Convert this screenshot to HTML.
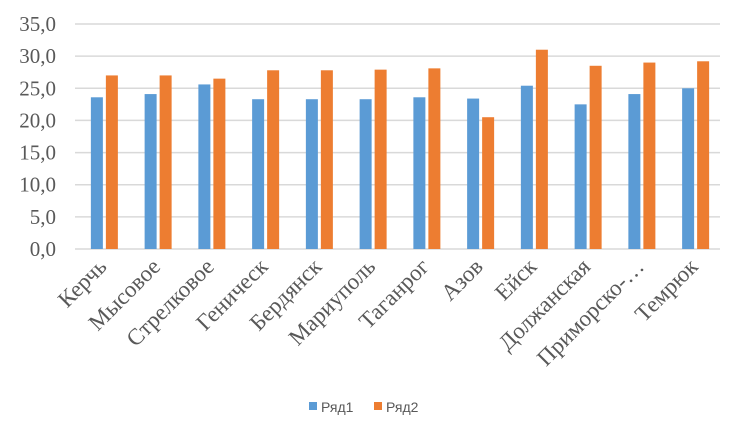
<!DOCTYPE html>
<html><head><meta charset="utf-8"><style>
body{margin:0;background:#fff;}
svg{display:block;}
</style></head><body>
<svg id="chart" width="729" height="437" xmlns="http://www.w3.org/2000/svg">
<g id="grid"></g><g id="yt"></g><g id="bars"></g><g id="xt"></g>
<g>
<rect x="309" y="402" width="8" height="8" fill="#5b9bd5"/>
<text x="321" y="412" font-family="Liberation Sans, sans-serif" font-size="14" fill="#595959">Ряд1</text>
<rect x="374" y="402" width="8" height="8" fill="#ed7d31"/>
<text x="386" y="412" font-family="Liberation Sans, sans-serif" font-size="14" fill="#595959">Ряд2</text>
</g>
</svg>
<script>
const categories=["Керчь","Мысовое","Стрелковое","Геническ","Бердянск","Мариуполь","Таганрог","Азов","Ейск","Должанская","Приморско-…","Темрюк"];
const series1=[23.6,24.1,25.6,23.3,23.3,23.3,23.6,23.4,25.4,22.5,24.1,25.0];
const series2=[27.0,27.0,26.5,27.8,27.8,27.9,28.1,20.5,31.0,28.5,29.0,29.2];
const yTicks=[0,5,10,15,20,25,30,35];
const yLabels=["0,0","5,0","10,0","15,0","20,0","25,0","30,0","35,0"];
const NS="http://www.w3.org/2000/svg";
const x0=75,x1=720,y0=249,yTop=24,yMax=35;
const y=v=>y0-(y0-yTop)*v/yMax;
const bw=(x1-x0)/categories.length;
const cx=i=>x0+bw*(i+0.5);
function mk(t,a,p){const e=document.createElementNS(NS,t);for(const k in a)e.setAttribute(k,a[k]);p.appendChild(e);return e;}
const grid=document.getElementById('grid'),yt=document.getElementById('yt'),bars=document.getElementById('bars'),xt=document.getElementById('xt');
yTicks.forEach((v,i)=>{
 const l=mk('line',{x1:x0,x2:x1,y1:y(v),y2:y(v),stroke:'#d9d9d9','stroke-width':1.5},grid);
 
 
 const t=mk('text',{x:56,y:y(v)+7,'text-anchor':'end','font-family':'Liberation Serif, serif','font-size':21,fill:'#595959'},yt);
 t.textContent=yLabels[i];
 
 
});
categories.forEach((c,i)=>{
 const b1=mk('rect',{x:cx(i)-11,y:y(series1[i]),width:12,height:y0-y(series1[i]),fill:'#5b9bd5'},bars);
 
 
 const b2=mk('rect',{x:cx(i)+4,y:y(series2[i]),width:12,height:y0-y(series2[i]),fill:'#ed7d31'},bars);
 
 
 const t=mk('text',{x:cx(i)+6,y:268,'text-anchor':'end','font-family':'Liberation Serif, serif','font-size':23,fill:'#595959',transform:`rotate(-45 ${cx(i)+6} 268)`},xt);
 t.textContent=c;
 
 
});
</script>
</body></html>
